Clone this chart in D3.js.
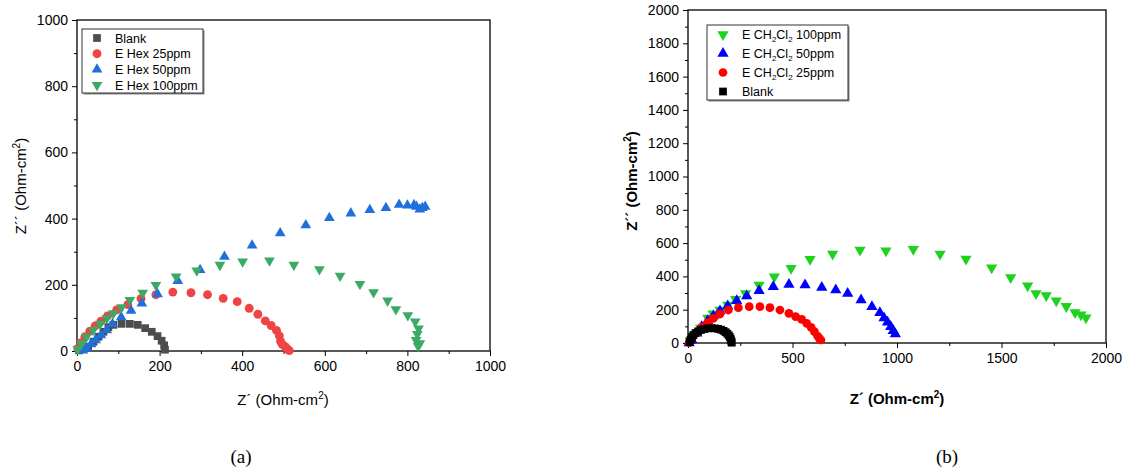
<!DOCTYPE html>
<html>
<head>
<meta charset="utf-8">
<script src="https://cdn.jsdelivr.net/npm/d3@7"></script>
<style>
  body { margin: 0; background: #fff; }
  text { font-family: "Liberation Sans", Arial, sans-serif; fill: #000; }
  text.tag { font-family: "Liberation Serif", "Times New Roman", serif; }
</style>
</head>
<body>
<div id="chart"></div>
<script>
// === Nyquist plots (a) and (b) ===

// --- panel (a) data: [Z', Z''] ---
const blankA = [[5,2],[15,6],[27,13],[40,28],[52,43],[64,58],[76,72],[88,79],[108,82],[128,82],[147,79],[165,69],[181,58],[195,45],[205,31],[211,17],[213,4]];
const hex25 = [[2,8],[10,25],[19,43],[31,60],[44,76],[58,90],[74,106],[96,124],[123,140],[155,158],[191,170],[232,178],[276,176],[316,170],[354,159],[388,149],[417,129],[438,111],[456,91],[470,77],[483,62],[490,46],[493,29],[497,20],[504,13],[509,6],[514,1]];
const hex50 = [[14,2],[23,8],[34,21],[45,33],[58,48],[72,63],[86,82],[107,102],[131,122],[157,144],[195,172],[244,212],[298,245],[357,285],[424,319],[492,356],[554,380],[611,402],[663,416],[709,426],[748,432],[780,442],[800,440],[816,441],[822,436],[830,428],[836,432],[843,436]];
const hex100 = [[2,5],[11,23],[23,43],[39,63],[56,82],[72,99],[88,114],[108,132],[128,154],[159,176],[191,199],[240,225],[290,243],[346,260],[401,270],[466,273],[525,260],[587,247],[637,227],[685,202],[718,177],[752,152],[772,126],[801,108],[819,89],[827,68],[824,51],[821,33],[830,23],[826,15]];

// --- panel (b) data ---
const blankB = [[8,5],[12,20],[18,35],[26,48],[36,60],[48,70],[62,78],[78,84],[95,88],[112,89],[128,88],[144,85],[158,80],[170,73],[180,65],[188,56],[195,46],[200,36],[204,26],[206,16],[208,8],[209,2]];
const dcm25 = [[5,2],[21,34],[42,62],[65,94],[94,122],[121,148],[153,174],[193,198],[241,212],[293,218],[344,218],[392,212],[440,198],[483,178],[515,158],[544,142],[568,118],[589,94],[605,68],[620,42],[628,28],[636,18]];
const dcm50 = [[5,0],[18,18],[42,58],[65,98],[94,134],[121,162],[153,192],[190,222],[233,254],[281,282],[340,314],[408,338],[483,352],[560,348],[640,334],[707,318],[764,298],[828,258],[880,218],[918,182],[938,150],[955,124],[970,98],[982,74],[992,54]];
const dcm100 = [[10,15],[30,45],[60,90],[95,150],[120,175],[153,198],[190,228],[228,262],[276,298],[340,348],[413,398],[493,449],[584,503],[692,535],[823,559],[947,554],[1078,563],[1206,535],[1330,505],[1453,452],[1544,394],[1625,344],[1665,298],[1714,286],[1762,254],[1810,220],[1852,183],[1880,169],[1904,151]];

// tick values
const ticksA = [0, 200, 400, 600, 800, 1000];
const ticksBx = [0, 500, 1000, 1500, 2000];
const ticksBy = [0, 200, 400, 600, 800, 1000, 1200, 1400, 1600, 1800, 2000];

const svg = d3.select("#chart").append("svg")
  .attr("width", 1131)
  .attr("height", 467);

const triDown = { draw(ctx, size) {
  const s = Math.sqrt(size * 4 / Math.sqrt(3)), h = s * Math.sqrt(3) / 2;
  ctx.moveTo(0, h * 2 / 3); ctx.lineTo(s / 2, -h / 3); ctx.lineTo(-s / 2, -h / 3); ctx.closePath();
}};

function axisTitle(sel, main, bold) {
  sel.attr("font-size", 15).attr("font-weight", bold ? "bold" : "normal");
  sel.append("tspan").text(main);
  sel.append("tspan").attr("font-size", 10).attr("dy", -6).text("2");
  sel.append("tspan").attr("dy", 6).text(")");
}

function panel(p) {
  const x = d3.scaleLinear().domain(p.xDomain).range([p.left, p.right]);
  const y = d3.scaleLinear().domain(p.yDomain).range([p.bottom, p.top]);
  const g = svg.append("g");

  // minor ticks
  g.append("g").attr("transform", `translate(0,${p.bottom})`)
    .call(d3.axisBottom(x).tickValues(p.xMinor).tickSize(3).tickFormat(""))
    .call(a => a.select(".domain").remove());
  g.append("g").attr("transform", `translate(${p.left},0)`)
    .call(d3.axisLeft(y).tickValues(p.yMinor).tickSize(3).tickFormat(""))
    .call(a => a.select(".domain").remove());

  const xa = g.append("g").attr("transform", `translate(0,${p.bottom})`)
    .call(d3.axisBottom(x).tickValues(p.xTicks).tickFormat(d3.format("d")).tickSize(5).tickSizeOuter(0).tickPadding(5));
  const ya = g.append("g").attr("transform", `translate(${p.left},0)`)
    .call(d3.axisLeft(y).tickValues(p.yTicks).tickFormat(d3.format("d")).tickSize(5).tickSizeOuter(0).tickPadding(4));
  [xa, ya].forEach(a => {
    a.selectAll("text").attr("font-size", 14).attr("fill", "#000");
    a.select(".domain").remove();
  });

  // frame
  g.append("rect").attr("x", p.left).attr("y", p.top)
    .attr("width", p.right - p.left).attr("height", p.bottom - p.top)
    .attr("fill", "none").attr("stroke", "#000").attr("stroke-width", 1.3);

  // points
  p.series.forEach(s => {
    g.append("g").selectAll("path").data(s.data).join("path")
      .attr("transform", d => `translate(${x(d[0])},${y(d[1])})`)
      .attr("d", d3.symbol().type(s.type).size(s.size))
      .attr("fill", s.color);
  });

  // legend
  const L = p.legend;
  g.append("rect").attr("x", L.x + 1.5).attr("y", L.y + 1.5).attr("width", L.w).attr("height", L.h).attr("fill", "#888");
  g.append("rect").attr("x", L.x).attr("y", L.y).attr("width", L.w).attr("height", L.h)
    .attr("fill", "#fff").attr("stroke", "#333").attr("stroke-width", 1);
  L.items.forEach((it, i) => {
    const s = p.series.find(d => d.key === it.key);
    const cy = L.y + L.first + i * L.step;
    g.append("path").attr("transform", `translate(${L.x + L.sym},${cy})`)
      .attr("d", d3.symbol().type(s.type).size(s.size)).attr("fill", s.color);
    const t = g.append("text").attr("x", L.x + L.txt).attr("y", cy + 4.5).attr("font-size", 12.5);
    it.parts.forEach(pt => {
      if (pt.sub) t.append("tspan").attr("font-size", 8).attr("dy", 3).text(pt.t);
      else t.append("tspan").attr("dy", pt.up ? -3 : null).text(pt.t);
    });
  });

  // axis titles
  svg.append("text").attr("x", p.xLab[0]).attr("y", p.xLab[1]).attr("text-anchor", "middle")
    .call(axisTitle, "Z\u00b4 (Ohm-cm", p.bold);
  svg.append("text").attr("transform", `translate(${p.yLab[0]},${p.yLab[1]}) rotate(-90)`)
    .attr("text-anchor", "middle")
    .call(axisTitle, "Z\u00b4\u00b4 (Ohm-cm", p.bold);

  svg.append("text").attr("class", "tag").attr("x", p.tag[0]).attr("y", p.tag[1])
    .attr("text-anchor", "middle").attr("font-size", 19)
    .text(p.tag[2]);
}

const sq = d3.symbolSquare, ci = d3.symbolCircle, tu = d3.symbolTriangle;

panel({
  left: 77, right: 490, top: 20, bottom: 351,
  xDomain: [0, 1000], yDomain: [0, 1000],
  xTicks: ticksA, yTicks: ticksA,
  xMinor: [100, 300, 500, 700, 900], yMinor: [100, 300, 500, 700, 900],
  series: [
    { key: "blank", data: blankA, type: sq, size: 60, color: "#4d4d4d" },
    { key: "h25", data: hex25, type: ci, size: 62, color: "#f04444" },
    { key: "h50", data: hex50, type: tu, size: 50, color: "#1f6fdc" },
    { key: "h100", data: hex100, type: triDown, size: 50, color: "#3aaa64" }
  ],
  legend: { x: 82, y: 29, w: 121, h: 64, first: 9, step: 15.7, sym: 15, txt: 33,
    items: [
      { key: "blank", parts: [{ t: "Blank" }] },
      { key: "h25", parts: [{ t: "E Hex 25ppm" }] },
      { key: "h50", parts: [{ t: "E Hex 50ppm" }] },
      { key: "h100", parts: [{ t: "E Hex 100ppm" }] }
    ] },
  xLab: [283, 405], yLab: [26, 186], bold: false,
  tag: [241, 463, "(a)"]
});

panel({
  left: 688, right: 1106, top: 10, bottom: 343,
  xDomain: [0, 2000], yDomain: [0, 2000],
  xTicks: ticksBx, yTicks: ticksBy,
  xMinor: [250, 750, 1250, 1750], yMinor: d3.range(100, 2000, 200),
  series: [
    { key: "d100", data: dcm100, type: triDown, size: 55, color: "#1ed21e" },
    { key: "d50", data: dcm50, type: tu, size: 55, color: "#0000ff" },
    { key: "d25", data: dcm25, type: ci, size: 60, color: "#ff0000" },
    { key: "blank", data: blankB, type: sq, size: 60, color: "#000000" }
  ],
  legend: { x: 707, y: 25, w: 141, h: 75, first: 9.5, step: 19, sym: 16, txt: 35,
    items: [
      { key: "d100", parts: [{ t: "E CH" }, { t: "2", sub: true }, { t: "Cl", up: true }, { t: "2", sub: true }, { t: " 100ppm", up: true }] },
      { key: "d50", parts: [{ t: "E CH" }, { t: "2", sub: true }, { t: "Cl", up: true }, { t: "2", sub: true }, { t: " 50ppm", up: true }] },
      { key: "d25", parts: [{ t: "E CH" }, { t: "2", sub: true }, { t: "Cl", up: true }, { t: "2", sub: true }, { t: " 25ppm", up: true }] },
      { key: "blank", parts: [{ t: "Blank" }] }
    ] },
  xLab: [897, 404], yLab: [637, 181], bold: true,
  tag: [947, 463, "(b)"]
});
</script>
</body>
</html>
